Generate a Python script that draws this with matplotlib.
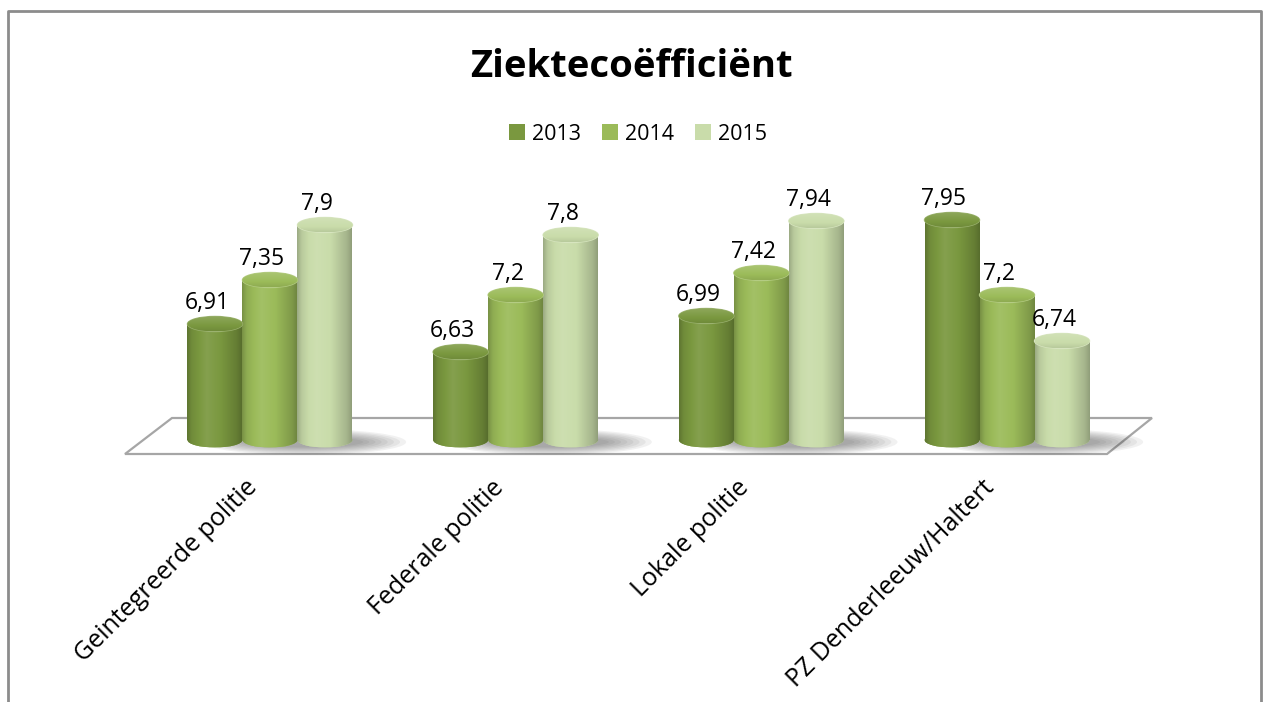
import matplotlib
matplotlib.use("Agg")
import numpy as np
import matplotlib.pyplot as plt
from matplotlib.colors import to_rgb
from matplotlib.lines import Line2D
from matplotlib.patches import Ellipse, Polygon

plt.rcParams["font.family"] = ["Open Sans", "DejaVu Sans"]

categories = ["Geintegreerde politie", "Federale politie", "Lokale politie", "PZ Denderleeuw/Haltert"]
years = ["2013", "2014", "2015"]
v2013 = [6.91, 6.63, 6.99, 7.95]
v2014 = [7.35, 7.20, 7.42, 7.20]
v2015 = [7.90, 7.80, 7.94, 6.74]
series = [v2013, v2014, v2015]
colors = ["#7a983f", "#9bbb59", "#c9dcaa"]

FLOOR = 5.75          # value where the cylinders stand on the floor
W = 55 / 245.67       # bar width in category units
EH = 0.15             # height of the cylinder end ellipses (value units)


def shade(col, f):
    c = np.array(to_rgb(col))
    if f >= 1:
        return c + (1 - c) * (f - 1)
    return c * f


def hgrad(col, n=64):
    # horizontal cylinder shading: dark left rim, highlight, dark right rim
    t = np.linspace(0, 1, n)
    prof = np.interp(t, [0, 0.08, 0.35, 0.6, 0.9, 1.0], [0.78, 0.92, 1.08, 1.0, 0.82, 0.7])
    img = np.array([shade(col, f) for f in prof])
    return np.clip(img[None, :, :], 0, 1)


fig = plt.figure(figsize=(12.63, 7.02), dpi=100)
ax = fig.add_axes([0, 0, 1, 1])
ax.set_xlim(-1.099, 4.042)
ax.set_ylim(3.13, 10.15)
ax.axis("off")


def px(xp, yp):
    return ((xp - 270) / 245.67, FLOOR + (440 - yp) / 100)


# floor
floor = Polygon([px(172, 418), px(1152, 418), px(1107, 454), px(125, 454)],
                closed=True, facecolor="white", edgecolor="#a6a6a6", linewidth=1.6, zorder=1)
ax.add_patch(floor)

xs = np.arange(len(categories))

# soft shadows on the floor
for i in xs:
    for k in range(8):
        sh = Ellipse((i + 0.14, FLOOR - 0.02), width=3.7 * W - k * 0.05, height=0.26 - k * 0.022,
                     facecolor="#404040", edgecolor="none", alpha=0.07, zorder=2)
        ax.add_patch(sh)

handles = []
for j, (vals, col) in enumerate(zip(series, colors)):
    x = xs + (j - 1) * W
    vals = np.array(vals)
    bars = ax.bar(x, vals - FLOOR, bottom=FLOOR, width=W, color=col, linewidth=0, zorder=3)
    handles.append(bars)
    grad = hgrad(col)
    for xc, v, b in zip(x, vals, bars):
        # body shading
        im = ax.imshow(grad, extent=(xc - W / 2, xc + W / 2, FLOOR - EH / 2, v),
                       aspect="auto", zorder=3.1, interpolation="bilinear")
        bot = Ellipse((xc, FLOOR), W, EH, facecolor=col, edgecolor="none", zorder=3)
        ax.add_patch(bot)
        clip = Polygon([(xc - W / 2, FLOOR), (xc + W / 2, FLOOR), (xc + W / 2, v), (xc - W / 2, v)],
                       closed=True, facecolor="none", edgecolor="none")
        ax.add_patch(clip)
        im2 = ax.imshow(grad, extent=(xc - W / 2, xc + W / 2, FLOOR - EH / 2, FLOOR + EH / 2),
                        aspect="auto", zorder=3.1, interpolation="bilinear")
        im2.set_clip_path(bot)
        im.set_clip_path(clip)
        # top end
        top = Ellipse((xc, v), W, EH, facecolor=shade(col, 1.0), edgecolor=shade(col, 1.25),
                      linewidth=1.0, zorder=4)
        ax.add_patch(top)
        tgrad = np.clip(np.array([shade(col, f) for f in np.linspace(1.15, 0.92, 32)])[:, None, :], 0, 1)
        im3 = ax.imshow(tgrad, extent=(xc - W / 2, xc + W / 2, v - EH / 2, v + EH / 2),
                        aspect="auto", zorder=4.1, interpolation="bilinear")
        im3.set_clip_path(top)
        ax.text(xc - 0.033, v + 0.15, f"{v:g}".replace(".", ","), ha="center", va="baseline",
                fontsize=16.5, color="#000000", zorder=5)

# category labels
for i, name in zip(xs, categories):
    xl, yl = px(270 + 245.67 * i - 16, 484)
    ax.text(xl, yl, name, rotation=45, rotation_mode="anchor", ha="right", va="center",
            fontsize=18, color="#000000")

fig.text(631 / 1263, 1 - 77 / 702, "Ziektecoëfficiënt", ha="center", va="baseline",
         fontsize=27.5, fontweight="bold", color="#000000")

ax.legend(handles, years, loc="center", bbox_to_anchor=(638 / 1263, 1 - 134 / 702),
          bbox_transform=fig.transFigure, ncol=3, frameon=False, fontsize=15.5,
          handlelength=0.75, handleheight=0.75, handletextpad=0.3, columnspacing=1.0)

# chart border
fig.add_artist(Line2D([8 / 1263, 8 / 1263, 1261 / 1263, 1261 / 1263],
                      [0, 1 - 11 / 702, 1 - 11 / 702, 0], transform=fig.transFigure,
                      color="#8c8c8c", linewidth=2))

fig.savefig("out.png", dpi=100)
